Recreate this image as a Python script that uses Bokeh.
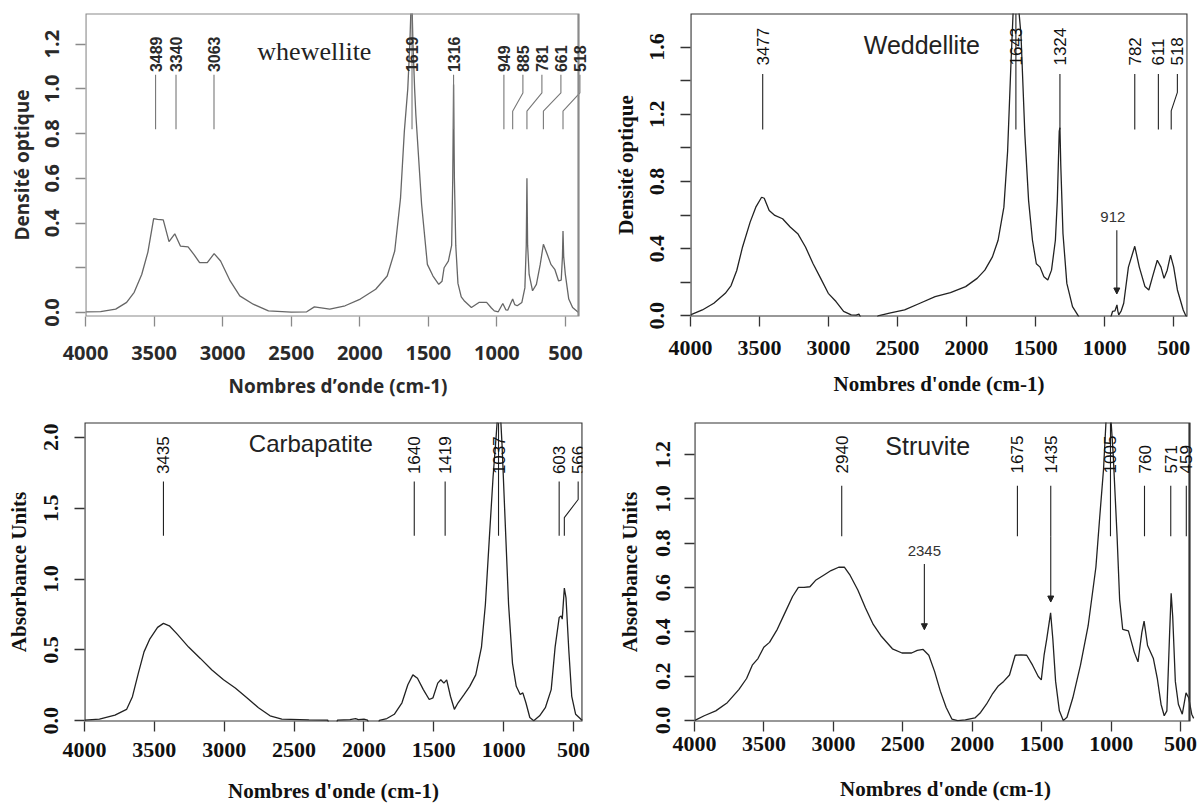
import math
from bokeh.plotting import figure
from bokeh.models import Range1d, FixedTicker, Label, Arrow, NormalHead, BoxAnnotation
from bokeh.layouts import column, row
from bokeh.embed import file_html
from bokeh.resources import INLINE

# ---------------- data ----------------
x_ticks = [4000, 3500, 3000, 2500, 2000, 1500, 1000, 500]
x_tick_labels = ["4000", "3500", "3000", "2500", "2000", "1500", "1000", "500"]

# Whewellite
whew_wn = [4000, 3890, 3780, 3700, 3645, 3590, 3545, 3503, 3475, 3433, 3391, 3349, 3308, 3252,
           3210, 3168, 3112, 3062, 3015, 2945, 2875, 2777, 2666, 2500, 2387, 2331, 2219, 2107,
           1996, 1884, 1800, 1745, 1703, 1675, 1650, 1635, 1622, 1612, 1600, 1591, 1549, 1507,
           1466, 1424, 1400, 1385, 1354, 1330, 1322, 1316, 1310, 1300, 1284, 1260, 1235, 1186,
           1131, 1075, 1040, 1019, 990, 957, 935, 921, 900, 885, 870, 852, 818, 796, 786, 781,
           776, 765, 740, 712, 684, 661, 633, 606, 578, 550, 531, 522, 518, 513, 501, 476, 448,
           420, 405]
whew_ab = [0.003, 0.004, 0.015, 0.045, 0.09, 0.17, 0.27, 0.42, 0.416, 0.414, 0.317, 0.352, 0.297, 0.293,
           0.26, 0.223, 0.223, 0.263, 0.23, 0.141, 0.074, 0.037, 0.007, 0.002, 0.003, 0.025, 0.015, 0.03,
           0.06, 0.104, 0.163, 0.275, 0.51, 0.81, 1.0, 1.2, 1.45, 1.2, 1.0, 0.884, 0.483, 0.215,
           0.163, 0.126, 0.14, 0.2, 0.23, 0.3, 0.6, 1.02, 0.6, 0.3, 0.13, 0.07, 0.05, 0.022,
           0.045, 0.045, 0.02, 0.007, 0.003, 0.04, 0.012, 0.01, 0.04, 0.06, 0.035, 0.03, 0.045, 0.11, 0.3, 0.60,
           0.3, 0.17, 0.097, 0.126, 0.215, 0.305, 0.26, 0.215, 0.193, 0.141, 0.145, 0.25, 0.364, 0.25, 0.17, 0.06, 0.022,
           0.008, 0.0]
whew_peaks = [3489, 3340, 3063, 1619, 1316, 949, 885, 781, 661, 518]
whew_offscale = [1619]
whew_yticks = [0.0, 0.2, 0.4, 0.6, 0.8, 1.0, 1.2]
whew_ytick_labels = ["0.0", "", "0.4", "0.6", "0.8", "1.0", "1.2"]

# Weddellite
wedd_wn = [4000, 3914, 3831, 3748, 3706, 3665, 3623, 3568, 3527, 3485, 3466, 3430, 3389, 3333,
           3278, 3223, 3167, 3112, 3057, 3002, 2946, 2891, 2836, 2800, 2780, 2760, 2650, 2642,
           2559, 2449, 2338, 2228, 2117, 2007, 1924, 1868, 1813, 1772, 1730, 1703, 1680, 1661,
           1645, 1630, 1606, 1578, 1551, 1523, 1495, 1468, 1440, 1412, 1385, 1357, 1343, 1329,
           1324, 1318, 1302, 1274, 1233, 1191, 1180, 960, 943, 925, 911, 905, 898, 880, 862, 828,
           782, 749, 708, 680, 653, 619, 592, 570, 547, 523, 500, 473, 431, 412, 400]
wedd_ab = [0.006, 0.035, 0.075, 0.134, 0.18, 0.27, 0.41, 0.558, 0.647, 0.706, 0.70, 0.627, 0.598, 0.578,
           0.529, 0.489, 0.41, 0.31, 0.223, 0.134, 0.085, 0.026, 0.006, 0.004, 0.01, -0.02, -0.02, 0.0,
           0.016, 0.035, 0.075, 0.114, 0.138, 0.174, 0.223, 0.272, 0.351, 0.45, 0.647, 0.98, 1.475, 1.85,
           2.0, 1.9, 1.67, 1.08, 0.686, 0.45, 0.31, 0.29, 0.233, 0.213, 0.272, 0.45, 0.686, 1.1,
           1.12, 0.9, 0.49, 0.193, 0.055, 0.0, -0.02, -0.02, 0.026, 0.03, 0.065, 0.03, 0.006, 0.03, 0.075, 0.29,
           0.414, 0.29, 0.174, 0.154, 0.233, 0.331, 0.29, 0.223, 0.272, 0.361, 0.29, 0.154, 0.035, 0.0, -0.01]
wedd_peaks = [3477, 1643, 1324, 782, 611, 518]
wedd_offscale = [1643]
wedd_yticks = [0.0, 0.2, 0.4, 0.6, 0.8, 1.0, 1.2, 1.4, 1.6]
wedd_ytick_labels = ["0.0", "", "0.4", "", "0.8", "", "1.2", "", "1.6"]

# Carbapatite
carb_wn = [4000, 3893, 3782, 3699, 3657, 3615, 3574, 3532, 3477, 3435, 3393, 3338, 3255, 3171,
           3088, 3005, 2921, 2838, 2755, 2672, 2588, 2394, 2260, 2250, 2195, 2190, 2100, 2060,
           2040, 2000, 1975, 1965, 1895, 1890, 1836, 1783, 1728, 1686, 1650, 1617, 1575, 1533,
           1506, 1472, 1450, 1428, 1408, 1381, 1353, 1326, 1284, 1243, 1200, 1159, 1131, 1103,
           1076, 1053, 1037, 1020, 1012, 993, 965, 937, 910, 882, 863, 841, 813, 785, 743, 702,
           660, 632, 603, 589, 581, 566, 554, 534, 513, 485, 449, 435]
carb_ab = [0.005, 0.012, 0.04, 0.08, 0.17, 0.335, 0.486, 0.578, 0.659, 0.687, 0.67, 0.613, 0.52, 0.44,
           0.358, 0.289, 0.231, 0.162, 0.092, 0.035, 0.012, 0.007, 0.005, -0.02, -0.02, 0.005, 0.008, 0.015,
           0.008, 0.012, 0.005, -0.02, -0.02, 0.003, 0.016, 0.046, 0.127, 0.254, 0.324, 0.30, 0.22, 0.15,
           0.162, 0.266, 0.289, 0.266, 0.289, 0.173, 0.081, 0.127, 0.185, 0.243, 0.324, 0.52, 0.82, 1.283,
           1.72, 2.02, 2.25, 2.1, 1.95, 1.49, 0.82, 0.405, 0.243, 0.185, 0.197, 0.127, 0.023, 0.0, 0.035, 0.092,
           0.22, 0.52, 0.728, 0.74, 0.717, 0.936, 0.867, 0.497, 0.173, 0.046, 0.012, 0.005]
carb_peaks = [3435, 1640, 1419, 1037, 603, 566]
carb_offscale = [1037]
carb_yticks = [0.0, 0.5, 1.0, 1.5, 2.0]
carb_ytick_labels = ["0.0", "0.5", "1.0", "1.5", "2.0"]

# Struvite
stru_wn = [4000, 3990, 3930, 3847, 3764, 3681, 3625, 3584, 3543, 3501, 3460, 3404, 3349, 3294,
           3252, 3211, 3169, 3128, 3073, 3017, 2962, 2921, 2879, 2824, 2769, 2713, 2658, 2575,
           2506, 2437, 2396, 2354, 2313, 2271, 2230, 2188, 2147, 2105, 2050, 1981, 1940, 1898,
           1857, 1815, 1774, 1732, 1691, 1649, 1608, 1566, 1525, 1503, 1483, 1464, 1436, 1420,
           1400, 1373, 1345, 1318, 1276, 1221, 1166, 1110, 1083, 1055, 1033, 1011, 986, 958, 939,
           917, 876, 834, 807, 779, 763, 738, 696, 668, 641, 618, 599, 579, 568, 557, 538, 516,
           488, 461, 442, 420, 406]
stru_ab = [0.0, 0.003, 0.022, 0.044, 0.081, 0.14, 0.19, 0.25, 0.28, 0.331, 0.353, 0.412, 0.486, 0.56,
           0.601, 0.601, 0.604, 0.633, 0.655, 0.677, 0.692, 0.692, 0.655, 0.589, 0.508, 0.434, 0.383, 0.324,
           0.305, 0.305, 0.317, 0.321, 0.295, 0.221, 0.133, 0.059, 0.007, 0.0, 0.003, 0.012, 0.037, 0.074,
           0.118, 0.155, 0.177, 0.206, 0.295, 0.297, 0.295, 0.25, 0.199, 0.184, 0.295, 0.368, 0.486, 0.368,
           0.177, 0.044, 0.0, 0.015, 0.103, 0.25, 0.427, 0.692, 0.913, 1.134, 1.4, 1.45, 1.208, 0.84, 0.545,
           0.412, 0.405, 0.309, 0.265, 0.398, 0.449, 0.339, 0.28, 0.191, 0.074, 0.022, 0.044, 0.398, 0.574, 0.471, 0.177, 0.074,
           0.029, 0.125, 0.103, 0.029, 0.01]
stru_peaks = [2940, 1675, 1435, 1005, 760, 571, 459]
stru_offscale = [1005]
stru_yticks = [0.0, 0.2, 0.4, 0.6, 0.8, 1.0, 1.2]
stru_ytick_labels = ["0.0", "0.2", "0.4", "0.6", "0.8", "1.0", "1.2"]

# extra arrows (wavenumbers)
wedd_arrows = [912]
stru_arrows = [2345]


def spread(peaks, gap):
    out = []
    for v in peaks:
        if out:
            out.append(min(v, out[-1] - gap))
        else:
            out.append(v)
    return out


def make_panel(c):
    fw = c["w"] - c["bl"] - c["br"]          # visible box width in px
    upp = (4000 - c["xend"]) / fw            # data units per px
    ext = c.get("ext", 0)                    # extra px of plotting frame beyond the box
    p = figure(width=c["w"], height=c["h"], x_range=Range1d(4000, c["xend"] - ext * upp),
               y_range=Range1d(c["ymin"], c["ymax"]), output_backend="svg", toolbar_location=None,
               min_border_left=c["bl"], min_border_right=c["br"] - ext, min_border_top=c["bt"],
               min_border_bottom=c["bb"])
    p.background_fill_color = "white"
    p.border_fill_color = "white"
    p.grid.visible = False
    p.outline_line_color = None
    p.add_layout(BoxAnnotation(left=4000, right=c["xend"], fill_alpha=0, fill_color=None,
                               line_color=c["frame"], line_width=2.2, line_alpha=1.0))
    for ax, ticks, labels in ((p.xaxis, x_ticks, x_tick_labels), (p.yaxis, c["yt"], c["ytl"])):
        ax.ticker = FixedTicker(ticks=ticks, minor_ticks=[])
        ax.major_label_overrides = dict(zip(ticks, labels))
        ax.axis_line_color = None
        ax.major_tick_out = 10
        ax.major_tick_in = 0
        ax.minor_tick_out = 0
        ax.minor_tick_in = 0
        ax.major_tick_line_color = c["frame"]
        ax.major_tick_line_width = 1.3
        ax.major_label_text_font = c["tfont"]
        ax.major_label_text_font_style = "bold"
        ax.major_label_text_font_size = c["tsize"]
        ax.major_label_text_color = c["tcolor"]
        ax.axis_label_text_font = c["tfont"]
        ax.axis_label_text_font_style = "bold"
        ax.axis_label_text_font_size = c["asize"]
        ax.axis_label_text_color = c["tcolor"]
    p.xaxis.axis_label = c["xlabel"]
    p.yaxis.axis_label = c["ylabel"]
    p.yaxis.major_label_orientation = "vertical"
    p.xaxis.major_label_standoff = c["xls"]
    p.xaxis.axis_label_standoff = c["xas"]
    p.yaxis.major_label_standoff = c["yls"]
    p.yaxis.axis_label_standoff = c["yas"]

    p.line(c["wn"], c["ab"], line_color=c["lcolor"], line_width=c["lw"])

    gap = c.get("gap", 19.0) * upp
    lx = spread(c["peaks"], gap)
    gb, gt = c["gb"], c["gt"]
    hh = gt - gb
    xs, ys = [], []
    for v, x in zip(c["peaks"], lx):
        if v in c["off"]:
            xs.append([v, v]); ys.append([gb, c["ymax"]])
        elif x == v:
            xs.append([v, v]); ys.append([gb, gt])
        else:
            xs.append([x, x, v, v]); ys.append([gt, gt - hh / 3, gb + hh / 3, gb])
        p.add_layout(Label(x=x, y=c["ly"], text=str(v), angle=90, angle_units="deg",
                           text_align="left", text_baseline="middle", text_font=c["pfont"],
                           text_font_style=c["pstyle"], text_font_size=c["psize"],
                           text_color=c["tcolor"]))
    p.multi_line(xs, ys, line_color=c["gcolor"], line_width=1.1)

    p.add_layout(Label(x=c["title_x"], y=c["title_y"], text=c["title"], text_align="center",
                       text_baseline="middle", text_font=c["title_font"], text_font_size=c["title_size"],
                       text_color="#222222"))
    for (x0, y0, y1) in c.get("arrows", []):
        p.add_layout(Arrow(end=NormalHead(size=6, fill_color="#222222", line_color="#222222"),
                           x_start=x0, y_start=y0, x_end=x0, y_end=y1,
                           line_color="#222222", line_width=1.1))
    for (x0, y0, txt, xo) in c.get("texts", []):
        p.add_layout(Label(x=x0, y=y0, text=txt, x_offset=xo, text_align="center", text_baseline="middle",
                           text_font="Liberation Sans", text_font_size="15px", text_color="#333333"))
    return p


serif = "Liberation Serif"
common_serif = dict(tfont=serif, tsize="22px", asize="21px", tcolor="#111111", frame="#333333",
                    lcolor="#222222", lw=1.3, gcolor="#222222", pfont="Liberation Sans",
                    pstyle="normal", psize="17px", title_font="Liberation Sans", title_size="25px")

p1 = make_panel(dict(
    w=599, h=402, bl=85, br=21, bt=13, bb=83, xend=405, ext=12, ymin=-0.018, ymax=1.337,
    yt=whew_yticks, ytl=whew_ytick_labels, wn=whew_wn, ab=whew_ab, peaks=whew_peaks, off=whew_offscale,
    gb=0.819, gt=1.063, ly=1.075,
    tfont="Open Sans", tsize="20px", asize="19px", tcolor="#2a2a2a", frame="#8a8a8a",
    lcolor="#666666", lw=1.3, gcolor="#777777", pfont="Liberation Sans", pstyle="bold", psize="16px",
    xlabel="Nombres d’onde (cm-1)", ylabel="Densité optique", xls=19, xas=10, yls=16, yas=8,
    title="whewellite", title_x=2331, title_y=1.166, title_font=serif, title_size="26px"))

p2 = make_panel(dict(common_serif,
    w=599, h=402, bl=91, br=11, bt=11, bb=86, xend=400, ymin=-0.004, ymax=1.80,
    yt=wedd_yticks, ytl=wedd_ytick_labels, wn=wedd_wn, ab=wedd_ab, peaks=wedd_peaks, off=wedd_offscale,
    gb=1.11, gt=1.44, ly=1.49,
    xlabel="Nombres d'onde (cm-1)", ylabel="Densité optique", xls=14, xas=14, yls=16, yas=10,
    title="Weddellite", title_x=2324, title_y=1.613,
    arrows=[(wedd_arrows[0], 0.509, 0.13)], texts=[(wedd_arrows[0], 0.588, str(wedd_arrows[0]), -4)]))

p3 = make_panel(dict(common_serif,
    w=599, h=403, bl=84, br=17, bt=20, bb=80, xend=436, ymin=-0.005, ymax=2.104,
    yt=carb_yticks, ytl=carb_ytick_labels, wn=carb_wn, ab=carb_ab, peaks=carb_peaks, off=carb_offscale,
    gb=1.306, gt=1.688, ly=1.74,
    xlabel="Nombres d'onde (cm-1)", ylabel="Absorbance Units", xls=11, xas=19, yls=16, yas=11,
    title="Carbapatite", title_x=2380, title_y=1.958, title_size="24px"))

p4 = make_panel(dict(common_serif,
    w=599, h=403, bl=95, br=9, bt=17, bb=82, xend=436, ext=7, gap=15.0, ymin=-0.004, ymax=1.345,
    yt=stru_yticks, ytl=stru_ytick_labels, wn=stru_wn, ab=stru_ab, peaks=stru_peaks, off=stru_offscale,
    gb=0.832, gt=1.06, ly=1.115,
    xlabel="Nombres d'onde (cm-1)", ylabel="Absorbance Units", xls=5, xas=23, yls=14, yas=12,
    title="Struvite", title_x=2321, title_y=1.237,
    arrows=[(1435, 0.832, 0.535), (stru_arrows[0], 0.707, 0.41)],
    texts=[(stru_arrows[0], 0.766, str(stru_arrows[0]), 0)]))

layout = column(row(p1, p2), row(p3, p4))
open("out.html", "w").write(file_html(layout, INLINE))
